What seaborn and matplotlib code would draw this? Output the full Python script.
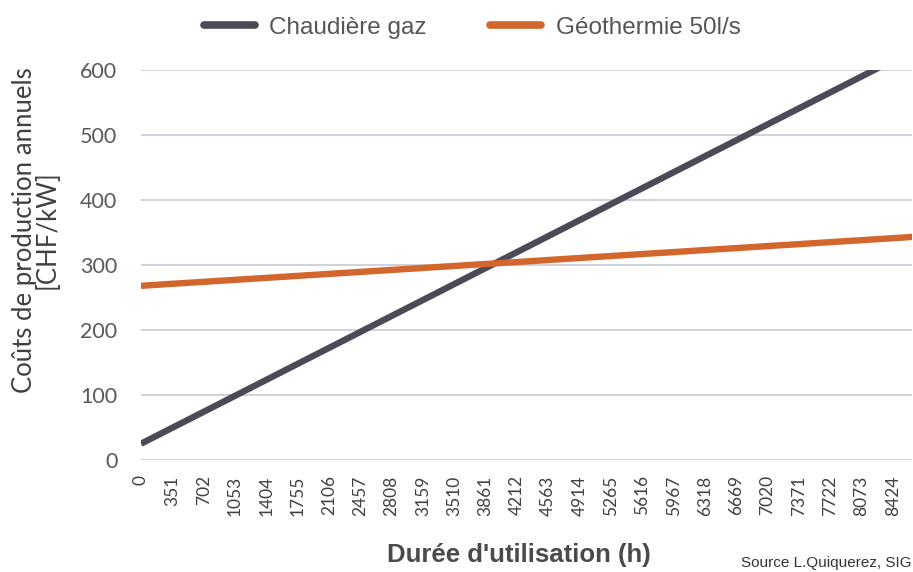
import pandas as pd
import seaborn as sns
import matplotlib.pyplot as plt

# values
hours = [0, 351, 702, 1053, 1404, 1755, 2106, 2457, 2808, 3159, 3510, 3861, 4212,
         4563, 4914, 5265, 5616, 5967, 6318, 6669, 7020, 7371, 7722, 8073, 8424, 8760]
gaz = [25.0, 49.6, 74.1, 98.7, 123.3, 147.9, 172.4, 197.0, 221.6, 246.1, 270.7, 295.3, 319.8,
       344.4, 369.0, 393.6, 418.1, 442.7, 467.3, 491.8, 516.4, 541.0, 565.5, 590.1, 614.7, 638.2]
geo = [268.0, 271.1, 274.1, 277.2, 280.2, 283.3, 286.3, 289.4, 292.4, 295.5, 298.5, 301.6, 304.6,
       307.7, 310.8, 313.8, 316.9, 319.9, 323.0, 326.0, 329.1, 332.1, 335.2, 338.2, 341.3, 344.2]
tick_hours = hours[:-1]
series = ["Chaudière gaz", "Géothermie 50l/s"]
colors = ["#4b4b58", "#d2662c"]

df = pd.DataFrame({
    "h": hours * 2,
    "cout": gaz + geo,
    "serie": [series[0]] * len(hours) + [series[1]] * len(hours),
})

sns.set_style("white")
plt.rcParams["font.family"] = ["Lato", "DejaVu Sans"]

fig = plt.figure(figsize=(9.13, 5.72), dpi=100)
ax = fig.add_axes([0.1544, 0.1958, 0.845, 0.6818])

sns.lineplot(data=df, x="h", y="cout", hue="serie", palette=colors,
             linewidth=4.6, ax=ax, legend=False, solid_capstyle="butt")

ax.set_xlim(0, 8643)
ax.set_ylim(0, 600)
ax.set_yticks([0, 100, 200, 300, 400, 500, 600])
ax.set_xticks(tick_hours)
ax.set_xticklabels([str(t) for t in tick_hours], rotation=90, fontsize=12.5, color="#404040")
ax.tick_params(axis="y", labelsize=15.5, labelcolor="#595959", length=0, pad=17)
ax.tick_params(axis="x", length=0, pad=11)
ax.grid(axis="y", color="#cacad6", linewidth=1.2)
ax.grid(axis="x", visible=False)
for s in ax.spines.values():
    s.set_visible(False)
ax.set_axisbelow(True)

ax.set_xlabel("Durée d'utilisation (h)", family="Liberation Sans", fontweight="bold",
              fontsize=18.5, color="#4a4a4a")
ax.xaxis.set_label_coords(0.49, -0.212)
ax.set_ylabel("Coûts de production annuels\n[CHF/kW]", fontsize=18.5, color="#404040",
              linespacing=0.92)
ax.yaxis.set_label_coords(-0.105, 0.59)

handles = [plt.Line2D([], [], color=c, linewidth=5.5) for c in colors]
fig.legend(handles, series, loc="upper center", bbox_to_anchor=(0.517, 1.009), ncol=2,
           frameon=False, handlelength=2.1, columnspacing=2.6, handletextpad=0.6,
           prop={"family": "Liberation Sans", "size": 17.5}, labelcolor="#555555")

fig.text(0.998, 0.004, "Source L.Quiquerez, SIG", ha="right", va="bottom",
         family="Liberation Sans", fontsize=11, color="#333333")

fig.savefig("out.png", dpi=100)
